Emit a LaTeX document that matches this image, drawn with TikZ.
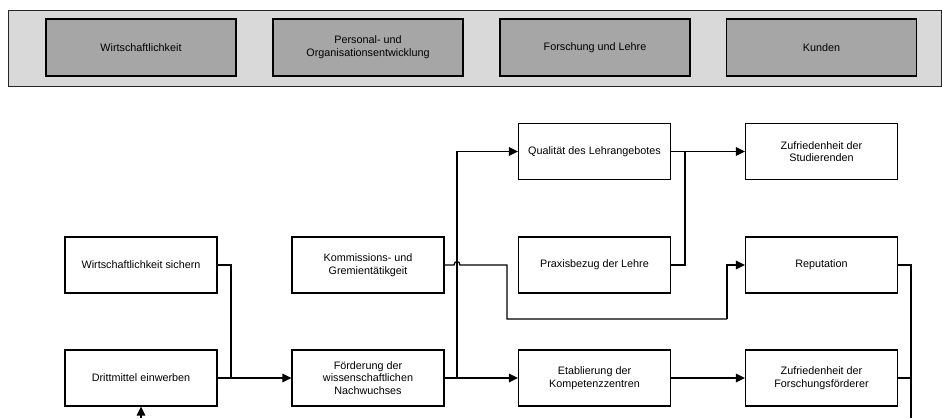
\documentclass[tikz,border=0pt]{standalone}
\usepackage{fontspec}
\setmainfont{Liberation Sans}
\usetikzlibrary{arrows.meta}
\definecolor{bandfill}{HTML}{D9D9D9}
\definecolor{boxfill}{HTML}{A6A6A6}
\begin{document}
\begin{tikzpicture}[x=1pt,y=-1pt,
  txt/.style={font=\fontsize{10.8}{12.7}\selectfont, align=center, inner sep=0pt},
  topbox/.style={txt, draw=black, line width=1.2pt, fill=boxfill, minimum width=190pt, minimum height=57pt},
  lowbox/.style={txt, draw=black, line width=1.2pt, fill=white, minimum width=152pt, minimum height=56pt},
  conn/.style={line width=1.3pt, line join=miter},
  arr/.style={conn, -{Triangle[length=9pt,width=8.5pt]}}]
\useasboundingbox (0,0) rectangle (942,418);
\fill[white] (0,0) rectangle (942,418);
% top band
\node[draw=black!85, line width=1pt, fill=bandfill, minimum width=933pt, minimum height=76pt, inner sep=0pt] (band) at (474.5,48) {};
\node[topbox] (t1) at (141,47.5) {Wirtschaftlichkeit};
\node[topbox] (t2) at (368,47.5) {Personal- und\\Organisationsentwicklung};
\node[topbox] (t3) at (595,47.5) {Forschung und Lehre};
\node[topbox] (t4) at (821.5,47.5) {Kunden};
% lower boxes
\node[lowbox] (ws) at (141,265) {Wirtschaftlichkeit sichern};
\node[lowbox] (dm) at (141,378) {Drittmittel einwerben};
\node[lowbox] (km) at (368,265) {Kommissions- und\\Gremientätikgeit};
\node[lowbox] (fw) at (368,378) {Förderung der\\wissenschaftlichen\\Nachwuchses};
\node[lowbox] (ql) at (594.5,151.5) {Qualität des Lehrangebotes};
\node[lowbox] (pr) at (594.5,265) {Praxisbezug der Lehre};
\node[lowbox] (et) at (594.5,378) {Etablierung der\\Kompetenzzentren};
\node[lowbox] (zs) at (821.5,151.5) {Zufriedenheit der\\Studierenden};
\node[lowbox] (rp) at (821.5,265) {Reputation};
\node[lowbox] (zf) at (821.5,378) {Zufriedenheit der\\Forschungsförderer};
% helper coordinates
\coordinate (j1) at (231,378);
\coordinate (j2) at (457,378);
\coordinate (j3) at (685,151.5);
\coordinate (j4) at (911,378);
\coordinate (h1) at (454,265);
\coordinate (h2) at (460,265);
\coordinate (k1) at (507,319);
\coordinate (k2) at (727,319);
\coordinate (r1) at (911,418);
\coordinate (b1) at (141,418);
% connectors
\draw[conn] (ws.east) -| (j1);
\draw[arr] (dm.east) -- (fw.west);
\draw[arr] (fw.east) -- (et.west);
\draw[arr] (j2) |- (ql.west);
\draw[conn] (km.east) -- (h1) .. controls (454,260.5) and (460,260.5) .. (h2) -| (k1) -| (k2);
\draw[arr] (k2) |- (rp.west);
\draw[arr] (ql.east) -- (zs.west);
\draw[conn] (pr.east) -| (j3);
\draw[arr] (et.east) -- (zf.west);
\draw[conn] (rp.east) -| (r1);
\draw[conn] (zf.east) -- (j4);
\draw[arr] (b1) -- (dm.south);
\end{tikzpicture}
\end{document}
